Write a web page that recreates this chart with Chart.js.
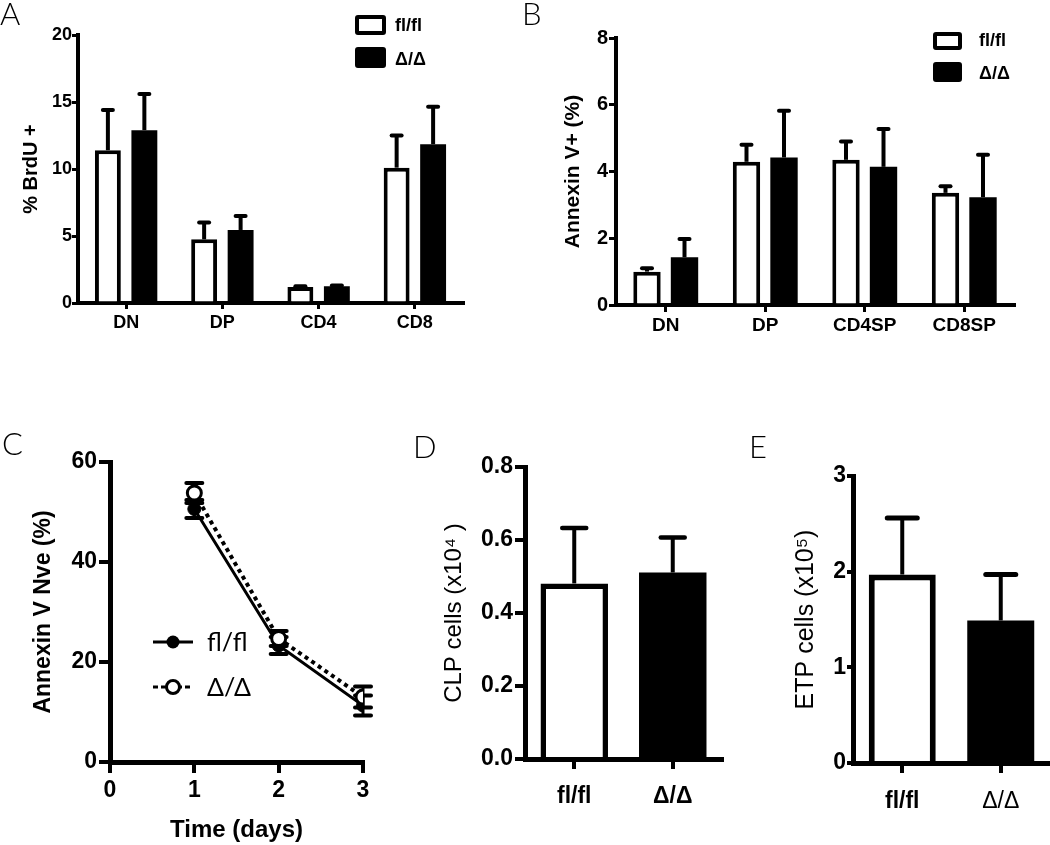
<!DOCTYPE html>
<html><head><meta charset="utf-8">
<script src="https://cdn.jsdelivr.net/npm/chart.js@4.4.1/dist/chart.umd.min.js"></script>
<style>
html,body{margin:0;padding:0;background:#fff;width:1050px;height:845px;overflow:hidden;position:relative;font-family:'Liberation Sans',Arial,sans-serif;color:#000;}
canvas{position:absolute;}
.pl{position:absolute;font-family:Lato,'Open Sans',sans-serif;font-weight:300;font-size:31px;line-height:31px;white-space:nowrap;}
.lg{position:absolute;font-weight:bold;font-size:18px;line-height:20px;height:20px;white-space:nowrap;}
.lgc{position:absolute;font-family:Lato,'Open Sans',sans-serif;font-weight:400;font-size:25px;line-height:28px;height:28px;white-space:nowrap;}
.bx{position:absolute;box-sizing:border-box;border:4px solid #000;border-radius:3px;}
svg{position:absolute;}
</style></head><body>
<canvas id="cA" width="490" height="345" style="left:0;top:0"></canvas>
<canvas id="cB" width="540" height="345" style="left:500px;top:0"></canvas>
<canvas id="cC" width="400" height="445" style="left:0;top:400px"></canvas>
<canvas id="cD" width="345" height="445" style="left:380px;top:400px"></canvas>
<canvas id="cE" width="350" height="445" style="left:700px;top:400px"></canvas>

<div class="pl" style="left:0;top:-2px">A</div>
<div class="pl" style="left:522px;top:-2px">B</div>
<div class="pl" style="left:2px;top:428px">C</div>
<div class="pl" style="left:413px;top:431px">D</div>
<div class="pl" style="left:749px;top:431px">E</div>

<div class="bx" style="left:355px;top:15px;width:31px;height:20px;background:#fff"></div>
<div class="bx" style="left:355px;top:47px;width:31px;height:21px;background:#000"></div>
<div class="lg" style="left:395px;top:15px">fl/fl</div>
<div class="lg" style="left:395px;top:49px">Δ/Δ</div>

<div class="bx" style="left:933px;top:32px;width:29px;height:18px;background:#fff"></div>
<div class="bx" style="left:933px;top:62px;width:29px;height:20px;background:#000"></div>
<div class="lg" style="left:979px;top:30px">fl/fl</div>
<div class="lg" style="left:979px;top:63px">Δ/Δ</div>

<svg style="left:150px;top:632px" width="48" height="20"><line x1="3" y1="10" x2="43" y2="10" stroke="#000" stroke-width="3"/><circle cx="23" cy="10" r="6.5" fill="#000"/></svg>
<svg style="left:150px;top:677px" width="48" height="20"><line x1="3" y1="10" x2="43" y2="10" stroke="#000" stroke-width="3" stroke-dasharray="5 3"/><circle cx="23" cy="10" r="6.5" fill="#fff" stroke="#000" stroke-width="3"/></svg>
<div class="lgc" style="left:207px;top:627px">fl/fl</div>
<div class="lgc" style="left:207px;top:672px">Δ/Δ</div>

<script>
// ---- data ----
const catA = ['DN', 'DP', 'CD4', 'CD8'];
const brduFl = [11.4, 4.75, 1.2, 10.1];
const brduFlErr = [3.0, 1.25, 0.05, 2.4];
const brduKo = [12.9, 5.45, 1.25, 11.85];
const brduKoErr = [2.7, 1.05, 0.05, 2.8];

const catB = ['DN', 'DP', 'CD4SP', 'CD8SP'];
const annFl = [1.0, 4.29, 4.35, 3.36];
const annFlErr = [0.1, 0.51, 0.55, 0.2];
const annKo = [1.43, 4.42, 4.14, 3.23];
const annKoErr = [0.55, 1.4, 1.13, 1.27];

const days = [1, 2, 3];
const nveFl = [50.6, 23.3, 11.3];
const nveFlErr = [1.8, 1.7, 2.0];
const nveKo = [53.8, 24.7, 13.0];
const nveKoErr = [2.0, 1.5, 2.1];

const groups = ['fl/fl', 'Δ/Δ'];
const clp = [0.481, 0.511];
const clpErr = [0.152, 0.096];
const etp = [1.97, 1.49];
const etpErr = [0.59, 0.48];

const FF = "'Liberation Sans', Arial, sans-serif";
const BLACK = '#000';

function drawErr(chart, o) {
  const ctx = chart.ctx, ys = chart.scales.y;
  chart.data.datasets.forEach((ds, i) => {
    if (!ds.errors) return;
    const meta = chart.getDatasetMeta(i);
    meta.data.forEach((el, j) => {
      const raw = ds.data[j];
      const v = (typeof raw === 'object') ? raw.y : raw;
      const e = ds.errors[j];
      const x = el.x;
      const y0 = ys.getPixelForValue(v);
      const yU = ys.getPixelForValue(v + e);
      const yD = ys.getPixelForValue(v - e);
      ctx.save();
      ctx.strokeStyle = BLACK;
      ctx.lineWidth = o.width;
      ctx.beginPath();
      ctx.moveTo(x, o.both ? yD : y0);
      ctx.lineTo(x, yU);
      ctx.stroke();
      ctx.lineWidth = o.capWidth;
      ctx.lineCap = 'round';
      ctx.beginPath();
      ctx.moveTo(x - o.cap, yU); ctx.lineTo(x + o.cap, yU);
      if (o.both) { ctx.moveTo(x - o.cap, yD); ctx.lineTo(x + o.cap, yD); }
      ctx.stroke();
      ctx.restore();
    });
  });
}
const errorBars = {
  id: 'errorBars',
  beforeDatasetsDraw(chart, a, o) { if (o.before) drawErr(chart, o); },
  afterDatasetsDraw(chart, a, o) { if (!o.before) drawErr(chart, o); }
};

function axisGrid(len, lw) {
  return { offset: false, drawOnChartArea: false, drawTicks: true, tickLength: len, color: BLACK, lineWidth: lw };
}
function base(padding) {
  return {
    responsive: false, animation: false, devicePixelRatio: 1,
    layout: { padding: padding },
    events: []
  };
}

// ---- A ----
new Chart(document.getElementById('cA'), {
  type: 'bar',
  data: { labels: catA, datasets: [
    { label: 'fl/fl', data: brduFl, errors: brduFlErr, backgroundColor: '#fff', borderColor: BLACK, borderWidth: 4, borderSkipped: 'start' },
    { label: 'Δ/Δ', data: brduKo, errors: brduKoErr, backgroundColor: BLACK, borderColor: BLACK, borderWidth: 0 }
  ]},
  options: Object.assign(base({ top: 35, right: 27, left: 0, bottom: 0 }), {
    datasets: { bar: { categoryPercentage: 0.758, barPercentage: 0.71 } },
    plugins: { legend: { display: false }, tooltip: { enabled: false }, errorBars: { width: 4, capWidth: 4, cap: 5 } },
    scales: {
      x: { grid: axisGrid(6, 3), border: { display: true, color: BLACK, width: 4 },
           ticks: { color: BLACK, font: { family: FF, size: 18, weight: 'bold' }, padding: 3 },
           afterFit: s => { s.height = 42; } },
      y: { min: 0, max: 20, grid: axisGrid(6, 3), border: { display: true, color: BLACK, width: 4 },
           ticks: { stepSize: 5, color: BLACK, font: { family: FF, size: 18, weight: 'bold' }, padding: 0 },
           title: { display: true, text: '% BrdU +', color: BLACK, font: { family: FF, size: 20, weight: 'bold' }, padding: { top: 19, bottom: 0 } },
           afterFit: s => { s.width = 78; } }
    }
  }),
  plugins: [errorBars]
});

// ---- B ----
new Chart(document.getElementById('cB'), {
  type: 'bar',
  data: { labels: catB, datasets: [
    { label: 'fl/fl', data: annFl, errors: annFlErr, backgroundColor: '#fff', borderColor: BLACK, borderWidth: 4, borderSkipped: 'start' },
    { label: 'Δ/Δ', data: annKo, errors: annKoErr, backgroundColor: BLACK, borderColor: BLACK, borderWidth: 0 }
  ]},
  options: Object.assign(base({ top: 38, right: 26, left: 0, bottom: 0 }), {
    datasets: { bar: { categoryPercentage: 0.754, barPercentage: 0.73 } },
    plugins: { legend: { display: false }, tooltip: { enabled: false }, errorBars: { width: 4, capWidth: 4, cap: 5 } },
    scales: {
      x: { grid: axisGrid(7, 3), border: { display: true, color: BLACK, width: 4 },
           ticks: { color: BLACK, font: { family: FF, size: 19, weight: 'bold' }, padding: 2 },
           afterFit: s => { s.height = 40; } },
      y: { min: 0, max: 8, grid: axisGrid(7, 3), border: { display: true, color: BLACK, width: 4 },
           ticks: { stepSize: 2, color: BLACK, font: { family: FF, size: 20, weight: 'bold' }, padding: 1 },
           title: { display: true, text: 'Annexin V+ (%)', color: BLACK, font: { family: FF, size: 21, weight: 'bold' }, padding: { top: 61, bottom: 0 } },
           afterFit: s => { s.width = 116; } }
    }
  }),
  plugins: [errorBars]
});

// ---- C ----
new Chart(document.getElementById('cC'), {
  type: 'line',
  data: { datasets: [
    { label: 'fl/fl', order: 2, data: days.map((d, i) => ({ x: d, y: nveFl[i] })), errors: nveFlErr,
      borderColor: BLACK, borderWidth: 3, backgroundColor: BLACK, pointRadius: 6.5, pointBackgroundColor: BLACK, pointBorderColor: BLACK, pointBorderWidth: 1, tension: 0 },
    { label: 'Δ/Δ', order: 1, data: days.map((d, i) => ({ x: d, y: nveKo[i] })), errors: nveKoErr,
      borderColor: BLACK, borderWidth: 4, borderDash: [4, 4], pointRadius: 7, pointBackgroundColor: '#fff', pointBorderColor: BLACK, pointBorderWidth: 3, tension: 0 }
  ]},
  options: Object.assign(base({ top: 62, right: 37, left: 0, bottom: 0 }), {
    plugins: { legend: { display: false }, tooltip: { enabled: false }, errorBars: { width: 3, capWidth: 4, cap: 8, both: true, before: true } },
    scales: {
      x: { type: 'linear', min: 0, max: 3, grid: axisGrid(11, 4), border: { display: true, color: BLACK, width: 5 },
           ticks: { stepSize: 1, color: BLACK, font: { family: FF, size: 23, weight: 'bold' }, padding: 4 },
           title: { display: true, text: 'Time (days)', color: BLACK, font: { family: FF, size: 24, weight: 'bold' }, padding: { top: 0, bottom: 0 } },
           afterFit: s => { s.height = 83; } },
      y: { min: 0, max: 60, grid: axisGrid(11, 4), border: { display: true, color: BLACK, width: 5 },
           ticks: { stepSize: 20, color: BLACK, font: { family: FF, size: 23, weight: 'bold' }, padding: 2 },
           title: { display: true, text: 'Annexin V Nve (%)', color: BLACK, font: { family: FF, size: 23, weight: 'bold' }, padding: { top: 30, bottom: 0 } },
           afterFit: s => { s.width = 110; } }
    }
  }),
  plugins: [errorBars]
});

// ---- D ----
new Chart(document.getElementById('cD'), {
  type: 'bar',
  data: { labels: groups, datasets: [
    { data: clp, errors: clpErr, backgroundColor: ['#fff', BLACK], borderColor: BLACK, borderWidth: [5.5, 0], borderSkipped: 'start',
      categoryPercentage: 1, barPercentage: 0.685 }
  ]},
  options: Object.assign(base({ top: 67, right: 3, left: 0, bottom: 0 }), {
    plugins: { legend: { display: false }, tooltip: { enabled: false }, errorBars: { width: 4, capWidth: 4.5, cap: 12 } },
    scales: {
      x: { grid: axisGrid(10, 4), border: { display: true, color: BLACK, width: 5 },
           ticks: { color: BLACK, font: { family: FF, size: 23, weight: 'bold' }, padding: 14 },
           afterFit: s => { s.height = 86; } },
      y: { min: 0, max: 0.8, grid: axisGrid(10, 4), border: { display: true, color: BLACK, width: 5 },
           ticks: { stepSize: 0.2, color: BLACK, font: { family: FF, size: 23, weight: 'bold' }, padding: 2, callback: v => v.toFixed(1) },
           title: { display: true, text: 'CLP cells (x10⁴ )', color: BLACK, font: { family: FF, size: 24, weight: 'normal' }, padding: { top: 60, bottom: 0 } },
           afterFit: s => { s.width = 145; } }
    }
  }),
  plugins: [errorBars]
});

// ---- E ----
new Chart(document.getElementById('cE'), {
  type: 'bar',
  data: { labels: groups, datasets: [
    { data: etp, errors: etpErr, backgroundColor: ['#fff', BLACK], borderColor: BLACK, borderWidth: [6, 0], borderSkipped: 'start',
      categoryPercentage: 1, barPercentage: 0.68 }
  ]},
  options: Object.assign(base({ top: 76, right: 0, left: 0, bottom: 0 }), {
    plugins: { legend: { display: false }, tooltip: { enabled: false }, errorBars: { width: 4, capWidth: 5, cap: 15 } },
    scales: {
      x: { grid: axisGrid(10, 4), border: { display: true, color: BLACK, width: 5 },
           ticks: { color: BLACK, font: c => ({ family: FF, size: 23, weight: c.index === 1 ? 'normal' : 'bold' }), padding: 15 },
           afterFit: s => { s.height = 82; } },
      y: { min: 0, max: 3, grid: axisGrid(6, 4), border: { display: true, color: BLACK, width: 5 },
           ticks: { stepSize: 1, color: BLACK, font: { family: FF, size: 23, weight: 'bold' }, padding: 1 },
           title: { display: true, text: 'ETP cells (x10⁵)', color: BLACK, font: { family: FF, size: 25, weight: 'normal' }, padding: { top: 91, bottom: 0 } },
           afterFit: s => { s.width = 153; } }
    }
  }),
  plugins: [errorBars]
});
</script>
</body></html>
